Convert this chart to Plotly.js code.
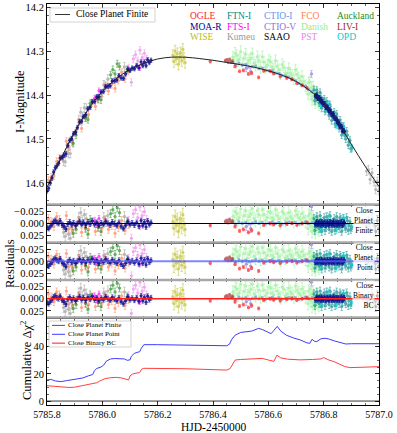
<!DOCTYPE html>
<html>
<head>
<meta charset="utf-8">
<script src="https://cdn.plot.ly/plotly-3.0.1.min.js"></script>
<style>
  html, body { margin: 0; padding: 0; background: #fff; }
  #plot { width: 397px; height: 433px; }
</style>
</head>
<body>
<div id="plot"></div>
<script>
(function () {
  'use strict';

  /* ---------- model light curve: Close Planet Finite ---------- */
  const MODEL_T   = [5785.80, 5785.85, 5785.90, 5785.95, 5786.00, 5786.05, 5786.10, 5786.15, 5786.20, 5786.25,
                     5786.30, 5786.35, 5786.40, 5786.45, 5786.50, 5786.55, 5786.60, 5786.65, 5786.70, 5786.75,
                     5786.80, 5786.85, 5786.90, 5786.95, 5787.00];
  const MODEL_MAG = [14.610, 14.545, 14.484, 14.432, 14.392, 14.363, 14.342, 14.328, 14.318, 14.314,
                     14.314, 14.317, 14.321, 14.326, 14.331, 14.337, 14.345, 14.355, 14.369, 14.390,
                     14.419, 14.460, 14.512, 14.562, 14.608];

  /* ---------- photometry (t, I mag, residual, error) ---------- */
  const MOA_T = [5785.800, 5785.806, 5785.812, 5785.818, 5785.824, 5785.830, 5785.836, 5785.842, 5785.848, 5785.855,
                 5785.862, 5785.868, 5785.875, 5785.882, 5785.889, 5785.896, 5785.903, 5785.910, 5785.918, 5785.925,
                 5785.932, 5785.940, 5785.948, 5785.956, 5785.964, 5785.972, 5785.980, 5785.988, 5785.996, 5786.004,
                 5786.012, 5786.020, 5786.028, 5786.036, 5786.044, 5786.052, 5786.060, 5786.068, 5786.076, 5786.084,
                 5786.092, 5786.100, 5786.108, 5786.116, 5786.124, 5786.132, 5786.140, 5786.146, 5786.152, 5786.158,
                 5786.164, 5786.170, 5786.176,
                 5786.770, 5786.775, 5786.780, 5786.785, 5786.790, 5786.795, 5786.800, 5786.805, 5786.810, 5786.815,
                 5786.820, 5786.825, 5786.830, 5786.835, 5786.840, 5786.845, 5786.850, 5786.855, 5786.860, 5786.865,
                 5786.870, 5786.875,
                 5786.7725, 5786.7775, 5786.7825, 5786.7875, 5786.7925, 5786.7975, 5786.8025, 5786.8075, 5786.8125, 5786.8175,
                 5786.8225, 5786.8275, 5786.8325, 5786.8375, 5786.8425, 5786.8475, 5786.8525, 5786.8575, 5786.8625, 5786.8675,
                 5786.8725];
  const MOA_MAG = [14.618, 14.612, 14.600, 14.589, 14.575, 14.565, 14.561, 14.555, 14.543, 14.542,
                   14.537, 14.534, 14.515, 14.503, 14.499, 14.488, 14.485, 14.474, 14.461, 14.460,
                   14.449, 14.445, 14.431, 14.428, 14.415, 14.415, 14.404, 14.404, 14.393, 14.392,
                   14.381, 14.380, 14.379, 14.368, 14.368, 14.366, 14.356, 14.361, 14.362, 14.352,
                   14.341, 14.344, 14.339, 14.340, 14.333, 14.338, 14.325, 14.333, 14.325, 14.333,
                   14.320, 14.326, 14.321,
                   14.402, 14.400, 14.407, 14.407, 14.415, 14.415, 14.421, 14.420, 14.428, 14.429,
                   14.438, 14.438, 14.445, 14.443, 14.452, 14.453, 14.463, 14.464, 14.472, 14.472,
                   14.481, 14.483,
                   14.401, 14.407, 14.406, 14.411, 14.411, 14.420, 14.421, 14.428, 14.427, 14.434,
                   14.434, 14.443, 14.444, 14.452, 14.453, 14.458, 14.461, 14.470, 14.472, 14.481,
                   14.481];
  const MOA_RES = [0.008, 0.010, 0.006, 0.002, -0.004, -0.006, -0.002, 0.000, -0.005, 0.003,
                   0.006, 0.011, 0.001, -0.003, 0.002, -0.001, 0.004, 0.000, -0.004, 0.002,
                   -0.002, 0.003, -0.003, 0.001, -0.005, 0.002, -0.002, 0.004, -0.001, 0.002,
                   -0.004, 0.000, 0.003, -0.003, 0.001, 0.004, -0.002, 0.006, 0.010, 0.004,
                   -0.004, 0.002, -0.001, 0.003, -0.002, 0.005, -0.006, 0.004, -0.003, 0.007,
                   -0.005, 0.002, -0.002,
                   0.002, -0.003, 0.001, -0.002, 0.003, -0.001, 0.002, -0.003, 0.001, -0.002,
                   0.003, -0.001, 0.002, -0.004, 0.001, -0.002, 0.003, -0.001, 0.002, -0.003,
                   0.001, -0.002,
                   -0.001, 0.002, -0.002, 0.001, -0.003, 0.002, -0.001, 0.003, -0.002, 0.001,
                   -0.003, 0.002, -0.001, 0.003, -0.002, 0.001, -0.002, 0.002, -0.001, 0.003,
                   -0.002];
  const MOA_ERR = 0.005;

  const FCO_T = [5785.805, 5785.815, 5785.825, 5785.835, 5785.845, 5785.858, 5785.870, 5785.880, 5785.892, 5785.905,
                 5785.915, 5785.925, 5785.938, 5785.950, 5785.962, 5785.975, 5785.985, 5785.998, 5786.010, 5786.022,
                 5786.034, 5786.046, 5786.058, 5786.070, 5786.082, 5786.094];
  const FCO_MAG = [14.594, 14.587, 14.584, 14.551, 14.544, 14.540, 14.505, 14.518, 14.508, 14.483,
                   14.462, 14.476, 14.452, 14.444, 14.418, 14.426, 14.408, 14.403, 14.378, 14.391,
                   14.376, 14.385, 14.367, 14.348, 14.363, 14.346];
  const FCO_RES = [-0.010, -0.004, 0.006, -0.014, -0.008, 0.004, -0.016, 0.010, 0.014, 0.004,
                   -0.006, 0.018, 0.008, 0.012, -0.004, 0.016, 0.006, 0.010, -0.008, 0.012,
                   0.004, 0.020, 0.008, -0.006, 0.014, 0.002];
  const FCO_ERR = 0.008;

  const KUMEU_T = [5785.860, 5785.866, 5785.872, 5785.878, 5785.884, 5785.890, 5785.915, 5785.922, 5785.928, 5785.935,
                   5785.942, 5786.005, 5786.012, 5786.020, 5786.080,
                   5786.955, 5786.962, 5786.968, 5786.975, 5786.982, 5786.988, 5786.994, 5786.999];
  const KUMEU_MAG = [14.551, 14.552, 14.530, 14.533, 14.533, 14.504, 14.456, 14.439, 14.449, 14.429,
                     14.430, 14.377, 14.381, 14.364, 14.336,
                     14.573, 14.570, 14.592, 14.577, 14.597, 14.615, 14.597, 14.617];
  const KUMEU_RES = [0.018, 0.026, 0.012, 0.022, 0.030, 0.008, -0.012, -0.022, -0.006, -0.018,
                     -0.010, -0.012, -0.004, -0.016, -0.014,
                     0.006, -0.004, 0.012, -0.010, 0.004, 0.016, -0.006, 0.010];
  const KUMEU_ERR = 0.010;

  const AUCK_T   = [5785.895, 5785.905, 5785.940, 5785.948, 5785.956, 5785.985, 5785.995, 5786.030, 5786.038, 5786.046,
                    5786.054, 5786.062, 5786.090];
  const AUCK_MAG = [14.510, 14.491, 14.452, 14.456, 14.419, 14.410, 14.411, 14.354, 14.342, 14.352,
                    14.329, 14.335, 14.342];
  const AUCK_RES = [0.020, 0.012, 0.010, 0.022, -0.008, 0.008, 0.016, -0.020, -0.028, -0.014,
                    -0.032, -0.022, -0.004];
  const AUCK_ERR = 0.008;

  const PST_T   = [5786.095, 5786.105, 5786.112, 5786.120, 5786.128, 5786.136, 5786.144, 5786.152, 5786.160];
  const PST_MAG = [14.338, 14.371, 14.318, 14.308, 14.322, 14.298, 14.315, 14.305, 14.318];
  const PST_RES = [-0.006, 0.030, -0.020, -0.028, -0.012, -0.034, -0.016, -0.024, -0.008];
  const PST_ERR = 0.008;

  const FTSI_T   = [5785.972, 5785.980, 5785.988, 5786.135];
  const FTSI_MAG = [14.407, 14.408, 14.390, 14.338];
  const FTSI_RES = [-0.006, 0.002, -0.010, 0.006];
  const FTSI_ERR = 0.006;

  const WISE_T   = [5786.255, 5786.259, 5786.263, 5786.267, 5786.271, 5786.275, 5786.279, 5786.283, 5786.287, 5786.291,
                    5786.295, 5786.299];
  const WISE_MAG = [14.310, 14.324, 14.300, 14.318, 14.306, 14.330, 14.314, 14.304, 14.322, 14.296,
                    14.316, 14.326];
  const WISE_RES = [-0.004, 0.010, -0.014, 0.004, -0.008, 0.016, 0.000, -0.010, 0.008, -0.018,
                    0.002, 0.012];
  const WISE_ERR = 0.013;

  const DANISH_T = [5786.472, 5786.480, 5786.490, 5786.500, 5786.512, 5786.524, 5786.536, 5786.548, 5786.560, 5786.572,
                    5786.584, 5786.596, 5786.608, 5786.620, 5786.632, 5786.644, 5786.656, 5786.668, 5786.680, 5786.692,
                    5786.704, 5786.716, 5786.728, 5786.740, 5786.746, 5786.752, 5786.756, 5786.760, 5786.764, 5786.768,
                    5786.772, 5786.776, 5786.780, 5786.786,
                    5786.476, 5786.486, 5786.495, 5786.506, 5786.518, 5786.530, 5786.542, 5786.554, 5786.566, 5786.578,
                    5786.590, 5786.602, 5786.614, 5786.626, 5786.638, 5786.650, 5786.662, 5786.674, 5786.686, 5786.698,
                    5786.710, 5786.722, 5786.734, 5786.744, 5786.750, 5786.758, 5786.762, 5786.770, 5786.778, 5786.783,
                    5786.790];
  const DANISH_MAG = [14.314, 14.305, 14.322, 14.301, 14.316, 14.328, 14.316, 14.327, 14.313, 14.337,
                      14.325, 14.332, 14.325, 14.341, 14.335, 14.352, 14.337, 14.350, 14.350, 14.363,
                      14.353, 14.368, 14.369, 14.384, 14.372, 14.396, 14.383, 14.403, 14.391, 14.411,
                      14.399, 14.410, 14.416, 14.412,
                      14.325, 14.310, 14.319, 14.330, 14.307, 14.321, 14.306, 14.332, 14.322, 14.313,
                      14.337, 14.321, 14.336, 14.322, 14.343, 14.331, 14.352, 14.340, 14.355, 14.343,
                      14.361, 14.358, 14.379, 14.398, 14.370, 14.410, 14.382, 14.418, 14.397, 14.422,
                      14.418];
  const DANISH_RES = [-0.014, -0.024, -0.008, -0.030, -0.016, -0.006, -0.020, -0.010, -0.026, -0.004,
                      -0.018, -0.012, -0.022, -0.008, -0.016, -0.002, -0.020, -0.010, -0.014, -0.004,
                      -0.018, -0.008, -0.012, -0.002, -0.016, 0.004, -0.010, 0.008, -0.006, 0.012,
                      -0.002, 0.006, 0.010, 0.002,
                      -0.004, -0.020, -0.012, -0.002, -0.026, -0.014, -0.030, -0.006, -0.018, -0.028,
                      -0.006, -0.024, -0.012, -0.028, -0.010, -0.024, -0.006, -0.022, -0.010, -0.026,
                      -0.012, -0.020, -0.004, 0.010, -0.020, 0.016, -0.014, 0.018, -0.008, 0.014,
                      0.006];
  const DANISH_ERR = 0.013;

  const FTN_T   = [5786.765, 5786.772, 5786.778, 5786.784, 5786.790, 5786.796, 5786.802, 5786.808, 5786.814, 5786.820,
                   5786.826, 5786.832, 5786.838, 5786.844, 5786.850, 5786.856, 5786.862, 5786.868, 5786.874, 5786.880,
                   5786.886, 5786.892, 5786.898,
                   5786.768, 5786.775, 5786.781, 5786.787, 5786.793, 5786.799, 5786.805, 5786.811, 5786.817, 5786.823,
                   5786.829, 5786.835, 5786.841, 5786.847, 5786.853, 5786.859, 5786.865, 5786.871, 5786.877, 5786.883,
                   5786.889, 5786.895, 5786.901];
  const FTN_MAG = [14.388, 14.407, 14.401, 14.418, 14.404, 14.420, 14.409, 14.433, 14.428, 14.447,
                   14.434, 14.449, 14.439, 14.463, 14.456, 14.476, 14.464, 14.484, 14.482, 14.500,
                   14.491, 14.507, 14.522,
                   14.413, 14.389, 14.409, 14.394, 14.430, 14.414, 14.437, 14.414, 14.437, 14.422,
                   14.458, 14.445, 14.466, 14.443, 14.467, 14.457, 14.491, 14.471, 14.493, 14.482,
                   14.514, 14.503, 14.521];
  const FTN_RES = [-0.010, 0.006, -0.004, 0.010, -0.008, 0.004, -0.012, 0.008, -0.002, 0.012,
                   -0.006, 0.004, -0.010, 0.008, -0.004, 0.010, -0.008, 0.006, -0.002, 0.010,
                   -0.006, 0.004, 0.012,
                   0.014, -0.014, 0.002, -0.016, 0.016, -0.004, 0.014, -0.014, 0.004, -0.016,
                   0.016, -0.002, 0.014, -0.014, 0.004, -0.012, 0.016, -0.010, 0.006, -0.012,
                   0.014, -0.004, 0.008];
  const FTN_ERR = 0.008;

  const OPD_T   = [5786.790, 5786.818, 5786.846, 5786.872, 5786.902];
  const OPD_MAG = [14.424, 14.419, 14.471, 14.470, 14.520];
  const OPD_RES = [0.012, -0.014, 0.014, -0.012, 0.006];
  const OPD_ERR = 0.006;

  const CTIOV_T   = [5786.520, 5786.536, 5786.756];
  const CTIOV_MAG = [14.339, 14.346, 14.352];
  const CTIOV_RES = [0.006, 0.010, -0.034];
  const CTIOV_ERR = 0.008;

  const CTIOI_T = [5786.470, 5786.482, 5786.494, 5786.506, 5786.518, 5786.530, 5786.542, 5786.554, 5786.566, 5786.578,
                   5786.590, 5786.602, 5786.614, 5786.626, 5786.638, 5786.650, 5786.662, 5786.674, 5786.686, 5786.698,
                   5786.710, 5786.722, 5786.734, 5786.746, 5786.758, 5786.770, 5786.782, 5786.794];
  const CTIOI_MAG = [14.326, 14.330, 14.328, 14.332, 14.331, 14.336, 14.335, 14.335, 14.340, 14.339,
                     14.344, 14.344, 14.345, 14.350, 14.351, 14.356, 14.357, 14.359, 14.365, 14.367,
                     14.374, 14.377, 14.380, 14.388, 14.392, 14.401, 14.405, 14.415];
  const CTIOI_RES = [-0.002, 0.001, -0.003, 0.000, -0.002, 0.001, -0.001, -0.003, 0.000, -0.002,
                     0.001, -0.001, -0.003, 0.000, -0.002, 0.001, -0.001, -0.003, 0.000, -0.002,
                     0.001, -0.001, -0.003, 0.000, -0.002, 0.001, -0.002, 0.000];
  const CTIOI_ERR = 0.002;

  const LIV_T   = [5786.445, 5786.450, 5786.455, 5786.460, 5786.465, 5786.470];
  const LIV_MAG = [14.322, 14.320, 14.325, 14.319, 14.325, 14.323];
  const LIV_RES = [-0.004, -0.006, -0.002, -0.008, -0.003, -0.005];
  const LIV_ERR = 0.003;

  const OGLE_T   = [5786.390, 5786.480, 5786.496, 5786.510, 5786.528, 5786.540, 5786.565, 5786.583, 5786.607, 5786.619,
                    5786.643, 5786.667, 5786.685, 5786.703, 5786.722, 5786.740];
  const OGLE_MAG = [14.324, 14.335, 14.346, 14.344, 14.352, 14.350, 14.360, 14.345, 14.346, 14.351,
                    14.358, 14.361, 14.364, 14.373, 14.378, 14.384];
  const OGLE_RES = [0.004, 0.006, 0.015, 0.012, 0.018, 0.014, 0.020, 0.003, 0.000, 0.002,
                    0.004, 0.001, -0.001, 0.003, 0.000, -0.002];
  const OGLE_ERR = 0.003;

  /* ---------- cumulative delta chi^2 ---------- */
  const CUM_FINITE_T = [5785.8, 5787.0];
  const CUM_FINITE   = [0, 0];
  const CUM_POINT_T = [5785.800, 5785.815, 5785.830, 5785.850, 5785.870, 5785.890, 5785.910, 5785.930, 5785.950, 5785.965,
                       5785.972, 5785.980, 5785.995, 5786.005, 5786.015, 5786.030, 5786.045, 5786.060, 5786.080, 5786.090,
                       5786.100, 5786.105, 5786.115, 5786.125, 5786.135, 5786.140, 5786.150, 5786.200, 5786.300, 5786.400,
                       5786.450, 5786.460, 5786.468, 5786.480, 5786.500, 5786.540, 5786.565, 5786.580, 5786.600, 5786.610,
                       5786.620, 5786.632, 5786.645, 5786.665, 5786.690, 5786.715, 5786.740, 5786.750, 5786.758, 5786.766,
                       5786.775, 5786.790, 5786.805, 5786.820, 5786.840, 5786.860, 5786.880, 5786.900, 5787.000];
  const CUM_POINT   = [15.5, 15.9, 14.8, 14.3, 15.0, 15.8, 16.2, 17.0, 18.6, 19.5,
                       22.5, 24.0, 25.0, 26.5, 29.5, 31.0, 31.3, 31.3, 31.0, 30.0,
                       30.3, 33.0, 35.0, 35.8, 36.3, 38.5, 41.5, 41.5, 41.3, 40.9,
                       40.7, 42.0, 45.5, 48.5, 50.5, 51.5, 53.5, 52.5, 50.5, 49.6,
                       52.0, 55.0, 51.5, 48.5, 46.5, 45.0, 42.8, 42.5, 45.5, 44.0,
                       43.8, 45.8, 46.2, 45.6, 44.2, 43.0, 42.0, 42.2, 42.2];
  const CUM_BIN_T = [5785.800, 5785.830, 5785.860, 5785.880, 5785.900, 5785.930, 5785.960, 5785.980, 5785.990, 5786.000,
                     5786.010, 5786.030, 5786.050, 5786.070, 5786.085, 5786.095, 5786.100, 5786.110, 5786.125, 5786.135,
                     5786.142, 5786.150, 5786.300, 5786.400, 5786.450, 5786.462, 5786.470, 5786.480, 5786.500, 5786.550,
                     5786.578, 5786.600, 5786.620, 5786.631, 5786.645, 5786.670, 5786.715, 5786.760, 5786.790, 5786.800,
                     5786.815, 5786.840, 5786.860, 5786.875, 5786.895, 5786.950, 5787.000];
  const CUM_BIN   = [11.3, 10.8, 10.6, 10.0, 10.2, 11.3, 12.3, 13.5, 14.7, 15.5,
                     16.5, 17.2, 17.4, 17.0, 16.2, 15.5, 18.5, 20.0, 20.6, 21.0,
                     23.5, 24.1, 23.8, 23.0, 22.8, 24.0, 27.0, 30.2, 30.6, 31.0,
                     31.4, 30.2, 29.2, 33.8, 31.8, 30.8, 30.3, 30.6, 31.0, 32.0,
                     30.5, 28.8, 27.0, 25.5, 24.6, 24.8, 25.3];

  /* ---------- label grid (3 rows x 5 columns) ---------- */
  const LABEL_ROWS = [
    ['OGLE',  'FTN-I', 'CTIO-I', 'FCO',    'Auckland'],
    ['MOA-R', 'FTS-I', 'CTIO-V', 'Danish', 'LIV-I'],
    ['WISE',  'Kumeu', 'SAAO',   'PST',    'OPD']
  ];
  const MODEL_NAMES = ['Close<br>Planet<br>Finite', 'Close<br>Planet<br>Point', 'Close<br>Binary<br>BC'];
  const CUM_NAMES = ['Close Planet Finite', 'Close Planet Point', 'Close Binary BC'];

  const COLORS = {
    'OGLE': '#ff1a1a', 'FTN-I': '#008b8b', 'CTIO-I': '#6495ed', 'FCO': '#ff7f50', 'Auckland': '#228b22',
    'MOA-R': '#00008b', 'FTS-I': '#ff00ff', 'CTIO-V': '#9370db', 'Danish': '#90ee90', 'LIV-I': '#a52a2a',
    'WISE': '#bcbd22', 'Kumeu': '#999999', 'SAAO': '#000000', 'PST': '#ee82ee', 'OPD': '#00ced1'
  };

  /* drawing order: back to front */
  const SETS = [
    { name: 'Kumeu',  t: KUMEU_T,  mag: KUMEU_MAG,  res: KUMEU_RES,  err: KUMEU_ERR },
    { name: 'FCO',    t: FCO_T,    mag: FCO_MAG,    res: FCO_RES,    err: FCO_ERR },
    { name: 'Auckland', t: AUCK_T, mag: AUCK_MAG,   res: AUCK_RES,   err: AUCK_ERR },
    { name: 'PST',    t: PST_T,    mag: PST_MAG,    res: PST_RES,    err: PST_ERR },
    { name: 'FTS-I',  t: FTSI_T,   mag: FTSI_MAG,   res: FTSI_RES,   err: FTSI_ERR },
    { name: 'WISE',   t: WISE_T,   mag: WISE_MAG,   res: WISE_RES,   err: WISE_ERR },
    { name: 'Danish', t: DANISH_T, mag: DANISH_MAG, res: DANISH_RES, err: DANISH_ERR },
    { name: 'FTN-I',  t: FTN_T,    mag: FTN_MAG,    res: FTN_RES,    err: FTN_ERR },
    { name: 'OPD',    t: OPD_T,    mag: OPD_MAG,    res: OPD_RES,    err: OPD_ERR },
    { name: 'CTIO-V', t: CTIOV_T,  mag: CTIOV_MAG,  res: CTIOV_RES,  err: CTIOV_ERR },
    { name: 'CTIO-I', t: CTIOI_T,  mag: CTIOI_MAG,  res: CTIOI_RES,  err: CTIOI_ERR },
    { name: 'LIV-I',  t: LIV_T,    mag: LIV_MAG,    res: LIV_RES,    err: LIV_ERR },
    { name: 'OGLE',   t: OGLE_T,   mag: OGLE_MAG,   res: OGLE_RES,   err: OGLE_ERR },
    { name: 'MOA-R',  t: MOA_T,    mag: MOA_MAG,    res: MOA_RES,    err: MOA_ERR }
  ];

  /* ---------- geometry helpers (pixel -> paper) ---------- */
  const W = 397, H = 433;
  const M = { l: 47, r: 18, t: 4, b: 28 };
  const PW = W - M.l - M.r, PH = H - M.t - M.b;
  const px = v => (v - M.l) / PW;
  const py = v => (H - M.b - v) / PH;

  const FONT = 'Liberation Serif, Times New Roman, serif';
  const TICKFONT = { family: FONT, size: 10.5, color: '#000' };
  const X_RANGE = [5785.8, 5787.0];

  function xAxis(anchor, labels) {
    return {
      anchor: anchor, domain: [0, 1], range: X_RANGE,
      tick0: 5785.8, dtick: 0.2, tickformat: '.1f',
      ticks: 'inside', ticklen: 4, tickwidth: 0.8, tickcolor: '#000',
      minor: { ticks: 'inside', ticklen: 2, tickwidth: 0.6, tick0: 5785.8, dtick: 0.05, tickcolor: '#000' },
      showline: true, linecolor: '#000', linewidth: 1, mirror: 'allticks',
      showgrid: false, zeroline: false, showticklabels: labels,
      tickfont: { family: FONT, size: 10, color: '#000' }
    };
  }
  function yAxis(anchor, domain, range, extra) {
    return Object.assign({
      anchor: anchor, domain: domain, range: range,
      ticks: 'inside', ticklen: 4, tickwidth: 0.8, tickcolor: '#000',
      showline: true, linecolor: '#000', linewidth: 1, mirror: 'allticks',
      showgrid: false, zeroline: false, tickfont: TICKFONT
    }, extra);
  }

  const D_MAIN = [py(204.5), 1];
  const D_R1 = [py(242.5), py(204.5)];
  const D_R2 = [py(280), py(242.5)];
  const D_R3 = [py(317.5), py(280)];
  const D_CUM = [0, py(319)];
  const RES_RANGE = [0.0386, -0.0386];
  const resTicks = {
    tickvals: [-0.025, 0, 0.025], ticktext: ['\u22120.025', '0.000', '0.025'],
    minor: { ticks: 'inside', ticklen: 2, tickwidth: 0.6, dtick: 0.0125, tick0: 0, tickcolor: '#000' }
  };

  /* ---------- traces ---------- */
  const traces = [];
  const panels = [['x', 'y', 'mag'], ['x2', 'y2', 'res'], ['x3', 'y3', 'res'], ['x4', 'y4', 'res']];
  panels.forEach(function (p) {
    SETS.forEach(function (s) {
      const c = COLORS[s.name];
      traces.push({
        x: s.t, y: s[p[2]], xaxis: p[0], yaxis: p[1],
        type: 'scatter', mode: 'markers', showlegend: false, hoverinfo: 'skip',
        opacity: s.name === 'MOA-R' ? 0.85 : 0.7,
        marker: { size: 3.2, color: c },
        error_y: { type: 'constant', value: s.err, color: c, thickness: 0.7, width: 1.2 }
      });
    });
  });

  traces.push({
    x: MODEL_T, y: MODEL_MAG, xaxis: 'x', yaxis: 'y',
    type: 'scatter', mode: 'lines', line: { color: '#222', width: 1, shape: 'spline' },
    showlegend: false, hoverinfo: 'skip'
  });

  traces.push({ x: CUM_FINITE_T, y: CUM_FINITE, xaxis: 'x5', yaxis: 'y5', type: 'scatter', mode: 'lines',
                line: { color: '#333', width: 1 }, showlegend: false, hoverinfo: 'skip' });
  traces.push({ x: CUM_POINT_T, y: CUM_POINT, xaxis: 'x5', yaxis: 'y5', type: 'scatter', mode: 'lines',
                line: { color: '#3c3cff', width: 1 }, showlegend: false, hoverinfo: 'skip' });
  traces.push({ x: CUM_BIN_T, y: CUM_BIN, xaxis: 'x5', yaxis: 'y5', type: 'scatter', mode: 'lines',
                line: { color: '#ff4040', width: 1 }, showlegend: false, hoverinfo: 'skip' });

  /* ---------- shapes: zero lines, panel bands, legend frames ---------- */
  const shapes = [];
  [['y2', '#000000', 1.2], ['y3', 'rgba(90,90,255,0.75)', 2], ['y4', '#ff2020', 1.4]].forEach(function (z) {
    shapes.push({ type: 'line', xref: 'paper', x0: 0, x1: 1, yref: z[0], y0: 0, y1: 0,
                  line: { color: z[1], width: z[2] }, layer: 'above' });
  });
  [204.5, 242.5, 280, 317.5].forEach(function (v) {
    shapes.push({ type: 'line', xref: 'paper', x0: 0, x1: 1, yref: 'paper', y0: py(v), y1: py(v),
                  line: { color: '#a8a8a8', width: 2.5 }, layer: 'above' });
  });

  function legendBox(x0, x1, y0, y1) {
    shapes.push({ type: 'rect', xref: 'paper', yref: 'paper', x0: px(x0), x1: px(x1), y0: py(y1), y1: py(y0),
                  line: { color: '#c8c8c8', width: 0.8 }, fillcolor: 'rgba(255,255,255,0.85)', layer: 'above' });
  }
  function legendLine(x0, x1, y, color, width) {
    shapes.push({ type: 'line', xref: 'paper', yref: 'paper', x0: px(x0), x1: px(x1), y0: py(y), y1: py(y),
                  line: { color: color, width: width }, layer: 'above' });
  }
  legendBox(50, 155, 8, 22);
  legendLine(55, 70, 14.5, '#333', 1);
  legendBox(49, 131, 321, 347);
  legendLine(52, 65, 325.4, '#555', 1);
  legendLine(52, 65, 334.3, '#3c3cff', 1);
  legendLine(52, 65, 343.2, '#ff7070', 1.6);

  /* ---------- annotations ---------- */
  const annotations = [];
  function txt(text, x, y, size, opts) {
    annotations.push(Object.assign({
      text: text, x: x, y: y, xref: 'paper', yref: 'paper', showarrow: false, borderpad: 0,
      font: { family: FONT, size: size, color: '#000' }
    }, opts || {}));
  }

  txt('Close Planet Finite', px(75), py(14.5), 9.5, { xanchor: 'left', yanchor: 'middle' });
  txt(CUM_NAMES.join('<br>'), px(67), py(334.3), 7, { xanchor: 'left', yanchor: 'middle', align: 'left' });

  const LABEL_X = [189, 226.5, 262.5, 300, 336];
  const LABEL_Y = [16, 26.5, 37];
  LABEL_ROWS.forEach(function (row, r) {
    row.forEach(function (name, c) {
      txt(name, px(LABEL_X[c]), py(LABEL_Y[r]), 9.5,
          { xanchor: 'left', yanchor: 'middle', font: { family: FONT, size: 9.5, color: COLORS[name] } });
    });
  });

  const MODEL_LABEL_Y = [220.5, 257.5, 295.5];
  MODEL_NAMES.forEach(function (text, i) {
    txt(text, px(375), py(MODEL_LABEL_Y[i]), 7.5,
        { xanchor: 'right', yanchor: 'middle', align: 'right', bgcolor: 'rgba(255,255,255,0.7)' });
  });

  txt('I-Magnitude', px(20), py(102), 12.5, { textangle: -90, xanchor: 'center', yanchor: 'middle' });
  txt('Residuals', px(10), py(264), 12.5, { textangle: -90, xanchor: 'center', yanchor: 'middle' });
  txt('Cumulative \u0394\u03c7<sup>2</sup>', px(26), py(361), 12.5, { textangle: -90, xanchor: 'center', yanchor: 'middle' });
  txt('HJD-2450000', px(213), py(426.5), 11.5, { xanchor: 'center', yanchor: 'middle' });

  /* ---------- layout ---------- */
  const layout = {
    width: W, height: H, margin: M,
    paper_bgcolor: '#fff', plot_bgcolor: '#fff', showlegend: false,
    xaxis: xAxis('y', false), xaxis2: xAxis('y2', false), xaxis3: xAxis('y3', false),
    xaxis4: xAxis('y4', false), xaxis5: xAxis('y5', true),
    yaxis: yAxis('x', D_MAIN, [14.649, 14.193], {
      tick0: 14.2, dtick: 0.1, tickformat: '.1f',
      minor: { ticks: 'inside', ticklen: 2, tickwidth: 0.6, tick0: 14.2, dtick: 0.02, tickcolor: '#000' }
    }),
    yaxis2: yAxis('x2', D_R1, RES_RANGE, resTicks),
    yaxis3: yAxis('x3', D_R2, RES_RANGE, resTicks),
    yaxis4: yAxis('x4', D_R3, RES_RANGE, resTicks),
    yaxis5: yAxis('x5', D_CUM, [-2.9, 60.4], {
      tickvals: [0, 20, 40],
      minor: { ticks: 'inside', ticklen: 2, tickwidth: 0.6, tick0: 0, dtick: 5, tickcolor: '#000' }
    }),
    shapes: shapes,
    annotations: annotations
  };

  Plotly.newPlot('plot', traces, layout, { displayModeBar: false, staticPlot: true });
})();
</script>
</body>
</html>
